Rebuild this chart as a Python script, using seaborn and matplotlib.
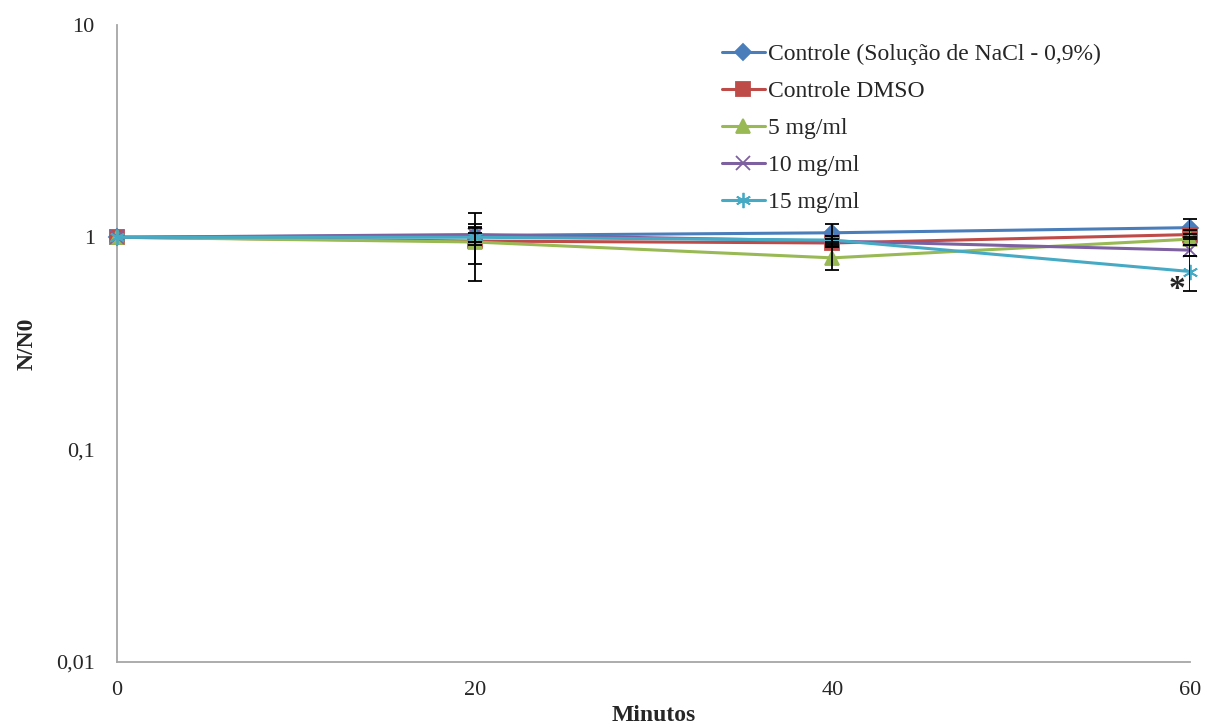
import numpy as np
import pandas as pd
import matplotlib.pyplot as plt
import seaborn as sns
from matplotlib.lines import Line2D

# Dados
minutos = [0, 20, 40, 60]
series = ['Controle (Solução de NaCl - 0,9%)', 'Controle DMSO', '5 mg/ml', '10 mg/ml', '15 mg/ml']
nacl = [1.0, 1.02, 1.05, 1.11]
dmso = [1.0, 0.96, 0.94, 1.03]
mg5 = [1.0, 0.95, 0.80, 0.98]
mg10 = [1.0, 1.03, 0.96, 0.87]
mg15 = [1.0, 1.0, 0.97, 0.69]

# Desvios (barras de erro)
err_nacl = [0, 0.10, 0.10, 0.11]
err_dmso = [0, 0.34, 0.04, 0.05]
err_5 = [0, 0.20, 0.10, 0.06]
err_10 = [0, 0.08, 0.05, 0.05]
err_15 = [0, 0.05, 0.04, 0.13]

cores = ['#4A7EBB', '#BE4B48', '#98B954', '#7D60A0', '#46AAC5']
marcadores = ['D', 's', '^', 'x', (6, 2, 0)]
tamanhos = [8, 10, 10, 10, 11]

valores = [nacl, dmso, mg5, mg10, mg15]
erros = [err_nacl, err_dmso, err_5, err_10, err_15]

sns.set_style('white')
plt.rcParams['font.family'] = ['Liberation Serif', 'DejaVu Serif']

fig = plt.figure(figsize=(12.05, 7.24), dpi=100)
ax = fig.add_axes([0.0971, 0.0856, 0.8905, 0.88])

for nome, v, cor, m, t in zip(series, valores, cores, marcadores, tamanhos):
    df = pd.DataFrame({'Minutos': minutos, 'N/N0': v})
    sns.lineplot(data=df, x='Minutos', y='N/N0', color=cor, marker=m,
                 markersize=t, markerfacecolor=cor, markeredgecolor=cor,
                 markeredgewidth=1.3, linewidth=2.2, ax=ax, zorder=3)

for v, e in zip(valores, erros):
    ax.errorbar(minutos[1:], v[1:], yerr=e[1:], fmt='none', ecolor='black',
                elinewidth=1.3, capsize=5, capthick=1.3, zorder=4)

for linha in ax.lines:
    linha.set_clip_on(False)

ax.text(59.25, 0.565, '*', fontsize=24, ha='center', va='center', fontweight='bold')

ax.set_yscale('log')
ax.set_ylim(0.01, 10)
ax.set_xlim(0, 60)
ax.set_xticks([0, 20, 40, 60])
ax.set_yticks([0.01, 0.1, 1, 10])
ax.set_yticklabels(['0,01', '0,1', '1', '10'])
ax.minorticks_off()
ax.tick_params(labelsize=16, length=0)
ax.tick_params(axis='y', pad=16)
ax.tick_params(axis='x', pad=14)
ax.set_xlabel('Minutos', fontsize=17, fontweight='bold')
ax.set_ylabel('N/N0', fontsize=17, fontweight='bold')
ax.xaxis.set_label_coords(0.5, -0.068)
ax.yaxis.set_label_coords(-0.074, 0.5)

for lado in ['top', 'right']:
    ax.spines[lado].set_visible(False)
for lado in ['left', 'bottom']:
    ax.spines[lado].set_color('#A6A6A6')
    ax.spines[lado].set_linewidth(1.3)

alcas = [Line2D([], [], color=c, marker=m, markersize=t, markerfacecolor=c,
                markeredgecolor=c, markeredgewidth=1.3, linewidth=2.2)
         for c, m, t in zip(cores, marcadores, tamanhos)]
ax.legend(alcas, series, loc='upper left', bbox_to_anchor=(0.564, 0.971),
          frameon=False, fontsize=17, handlelength=1.8, handletextpad=0.15,
          labelspacing=0.66, borderpad=0, borderaxespad=0)

plt.savefig('out.png', dpi=100)
